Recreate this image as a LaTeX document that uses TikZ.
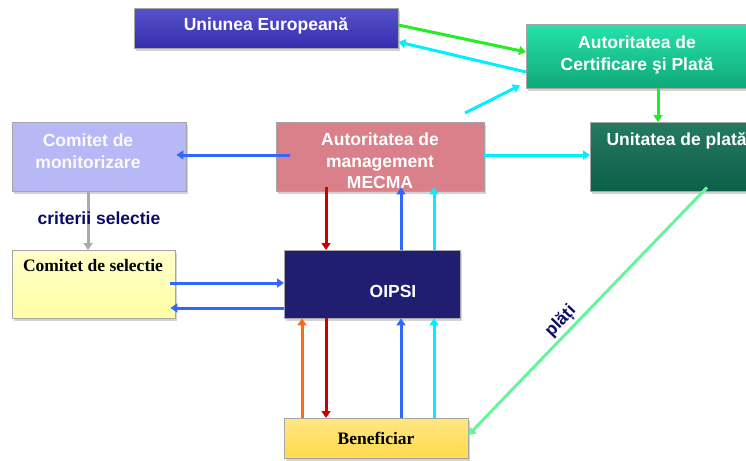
\documentclass[tikz,border=0pt]{standalone}
\usepackage{fontspec}
\setmainfont{Liberation Sans}
\newfontfamily\serifb{Liberation Serif}
\usetikzlibrary{arrows.meta,shadows}
\definecolor{ueC}{HTML}{3A33C2}
\definecolor{certT}{HTML}{26E2AA}
\definecolor{certB}{HTML}{10A878}
\definecolor{unitC}{HTML}{0E6A50}
\definecolor{cmC}{HTML}{B8B8F6}
\definecolor{mecC}{HTML}{D9808B}
\definecolor{csC}{HTML}{FFFFA6}
\definecolor{oipC}{HTML}{1F1E70}
\definecolor{benC}{HTML}{FFDB4D}
\definecolor{arGreen}{HTML}{22EE22}
\definecolor{arCyan}{HTML}{00F0FF}
\definecolor{arBlue}{HTML}{3366FF}
\definecolor{arRed}{HTML}{CC0000}
\definecolor{arOrange}{HTML}{FF6A10}
\definecolor{arGray}{HTML}{AAAAAA}
\definecolor{arLGreen}{HTML}{66F59A}
\definecolor{navyT}{HTML}{0A0A6A}
\tikzset{
  box/.style={draw=black!35, line width=0.4pt, rectangle, anchor=north west, inner sep=0pt,
    drop shadow={shadow xshift=1.5pt, shadow yshift=-2.5pt, opacity=0.35}},
  txt/.style={font=\bfseries\fontsize{17.5}{21.5}\selectfont, align=center, text=white},
  stxt/.style={font=\serifb\bfseries\fontsize{17.5}{21.5}\selectfont, align=center, text=black},
  lbl/.style={font=\bfseries\fontsize{17.5}{21.5}\selectfont, text=navyT},
  arr/.style={line width=3pt, -{Triangle[length=7pt,width=9pt]}},
}
\begin{document}
\begin{tikzpicture}[x=1pt,y=-1pt]
\useasboundingbox (0,0) rectangle (746,460);
% boxes
\node[box, top color=ueC!85!white, bottom color=ueC!90!black, minimum width=264pt, minimum height=40pt] (ue) at (134,8) {};
\node[box, top color=certT, bottom color=certB, minimum width=222pt, minimum height=64pt] (cert) at (526,24) {};
\node[box, top color=unitC!90!white, bottom color=unitC!90!black, minimum width=160pt, minimum height=69pt] (unit) at (590,122) {};
\node[box, fill=cmC, minimum width=174pt, minimum height=69pt] (cm) at (12,122) {};
\node[box, fill=mecC, minimum width=208pt, minimum height=69pt] (mec) at (276,122) {};
\node[box, top color=csC!60!white, bottom color=csC, minimum width=163pt, minimum height=68pt] (cs) at (12,250) {};
\node[box, fill=oipC, minimum width=176pt, minimum height=68pt] (oip) at (284,250) {};
\node[box, top color=benC!70!white, bottom color=benC, minimum width=184pt, minimum height=40pt] (ben) at (284,418) {};
% texts
\node[txt] (tue) at (266,26) {Uniunea Europeană};
\node[txt] (tcert) at (637,55) {Autoritatea de\\Certificare şi Plată};
\node[txt, anchor=west] (tunit) at (603,141) {Unitatea de plată};
\node[txt, text=white!95!cmC] (tcm) at (88,151) {Comitet de\\monitorizare};
\node[txt] (tmec) at (380,161) {Autoritatea de\\management\\MECMA};
\node[stxt] (tcs) at (93,266) {Comitet de selectie};
\node[txt] (toip) at (393,291) {OIPSI};
\node[stxt] (tben) at (376,438) {Beneficiar};
% arrows
\draw[arr, arGreen] ([yshift=-17pt]ue.north east) -- ([yshift=-28pt]cert.north west);
\draw[arr, arCyan] ([yshift=-48pt]cert.north west) -- ([yshift=-34pt]ue.north east);
\coordinate (cfrom) at (465,113);
\draw[arr, arCyan] (cfrom) -- ([xshift=-6pt,yshift=3pt]cert.south west);
\draw[arr, arGreen] ([xshift=132pt]cert.south west) -- ([xshift=68pt]unit.north west);
\draw[arr, arBlue] ([xshift=14pt,yshift=-33pt]mec.north west) -- ([xshift=-10pt,yshift=-33pt]cm.north east);
\draw[arr, arCyan] ([yshift=-33pt]mec.north east) -- ([yshift=-33pt]unit.north west);
\draw[arr, arGray] ([xshift=76pt]cm.south west) -- node[pos=0.45, lbl, xshift=11pt] {criterii selectie} ([xshift=76pt]cs.north west);
\draw[arr, arRed] ([xshift=50pt,yshift=4pt]mec.south west) -- ([xshift=42pt]oip.north west);
\draw[arr, arBlue] ([xshift=117pt]oip.north west) -- ([xshift=125pt,yshift=4pt]mec.south west);
\draw[arr, arCyan] ([xshift=150pt]oip.north west) -- ([xshift=158pt,yshift=4pt]mec.south west);
\draw[arr, arBlue] ([xshift=-5pt,yshift=-33pt]cs.north east) -- ([yshift=-33pt]oip.north west);
\draw[arr, arBlue] ([yshift=-58pt]oip.north west) -- ([xshift=-5pt,yshift=-58pt]cs.north east);
\draw[arr, arOrange] ([xshift=18pt]ben.north west) -- ([xshift=18pt]oip.south west);
\draw[arr, arRed] ([xshift=42pt]oip.south west) -- ([xshift=42pt]ben.north west);
\draw[arr, arBlue] ([xshift=117pt]ben.north west) -- ([xshift=117pt]oip.south west);
\draw[arr, arCyan] ([xshift=150pt]ben.north west) -- ([xshift=150pt]oip.south west);
\draw[arr, arLGreen] ([xshift=117pt,yshift=4pt]unit.south west) -- node[sloped, pos=0.575, above=-1pt, lbl] {plăți} ([yshift=-17pt]ben.north east);
\end{tikzpicture}
\end{document}
